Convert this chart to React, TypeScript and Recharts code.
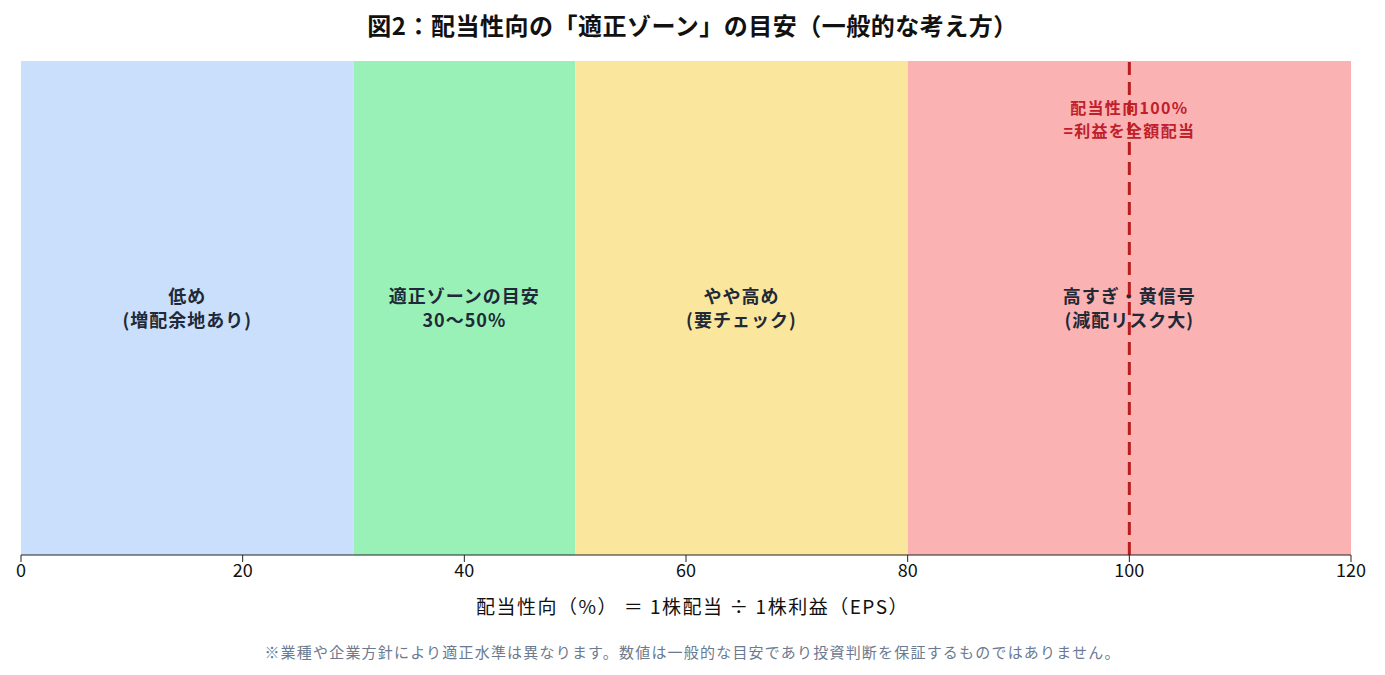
import { ComposedChart, XAxis, YAxis, Line, ReferenceArea, ReferenceLine } from "recharts";

const zoneStarts = [0, 30, 50, 80];
const zoneEnds = [30, 50, 80, 120];
const zoneColors = ["#c9dffc", "#9af1b8", "#fae79d", "#fbb2b3"];
const zoneLabels = [
  ["低め", "(増配余地あり)"],
  ["適正ゾーンの目安", "30〜50%"],
  ["やや高め", "(要チェック)"],
  ["高すぎ・黄信号", "(減配リスク大)"],
];
const xTicks = [0, 20, 40, 60, 80, 100, 120];
const fullPayout = 100;
const fullPayoutLabel = ["配当性向100%", "=利益を全額配当"];

const FONT = '"Noto Sans CJK JP", "Noto Sans", sans-serif';

// only used to give the axes something to scale against
const chartData = [
  { x: 0, y: 0 },
  { x: 120, y: 1 },
];

function ZoneLabel(props: any) {
  const { viewBox, lines } = props;
  const cx = viewBox.x + viewBox.width / 2;
  const cy = viewBox.y + viewBox.height / 2;
  return (
    <text x={cx} y={cy} textAnchor="middle" fill="#1f2937" fontSize={18} fontWeight={700} fontFamily={FONT} letterSpacing={1}>
      <tspan x={cx} dy={-5}>{lines[0]}</tspan>
      <tspan x={cx} dy={24}>{lines[1]}</tspan>
    </text>
  );
}

function LineLabel(props: any) {
  const { viewBox } = props;
  const cx = viewBox.x;
  return (
    <text x={cx} y={viewBox.y} textAnchor="middle" fill="#c0202a" fontSize={16} fontWeight={700} fontFamily={FONT} letterSpacing={1.3}>
      <tspan x={cx} dy={53}>{fullPayoutLabel[0]}</tspan>
      <tspan x={cx} dy={23}>{fullPayoutLabel[1]}</tspan>
    </text>
  );
}

export default function App() {
  return (
    <div style={{ position: "absolute", left: 0, top: 0, width: 1385, height: 675, background: "#fff", fontFamily: FONT }}>
      <div style={{ position: "absolute", left: 0, width: 1385, top: 7, textAlign: "center", fontSize: 24, fontWeight: 700, color: "#111", letterSpacing: 0.5 }}>
        図2：配当性向の「適正ゾーン」の目安（一般的な考え方）
      </div>
      <ComposedChart width={1385} height={675} data={chartData} margin={{ top: 61, right: 34, bottom: 90, left: 21 }}>
        <XAxis
          dataKey="x"
          type="number"
          domain={[0, 120]}
          ticks={xTicks}
          allowDataOverflow
          height={30}
          stroke="#222"
          tickSize={7}
          tick={{ fill: "#111", fontSize: 18, fontFamily: FONT }}
        />
        <YAxis hide type="number" domain={[0, 1]} />
        <Line dataKey="y" stroke="none" dot={false} activeDot={false} isAnimationActive={false} />
        {zoneStarts.map((s, i) => (
          <ReferenceArea
            key={i}
            x1={s}
            x2={zoneEnds[i]}
            y1={0}
            y2={1}
            fill={zoneColors[i]}
            fillOpacity={1}
            stroke="none"
            label={<ZoneLabel lines={zoneLabels[i]} />}
          />
        ))}
        <ReferenceLine
          x={fullPayout}
          stroke="#b91c1c"
          strokeWidth={3}
          strokeDasharray="13 7"
          label={<LineLabel />}
        />
      </ComposedChart>
      <div style={{ position: "absolute", left: 0, width: 1385, top: 592, textAlign: "center", fontSize: 19, color: "#111", letterSpacing: 1.5 }}>
        配当性向（%） ＝ 1株配当 ÷ 1株利益（EPS）
      </div>
      <div style={{ position: "absolute", left: 0, width: 1385, top: 641, textAlign: "center", fontSize: 15, color: "#6b7a90", letterSpacing: 1.2 }}>
        ※業種や企業方針により適正水準は異なります。数値は一般的な目安であり投資判断を保証するものではありません。
      </div>
    </div>
  );
}
